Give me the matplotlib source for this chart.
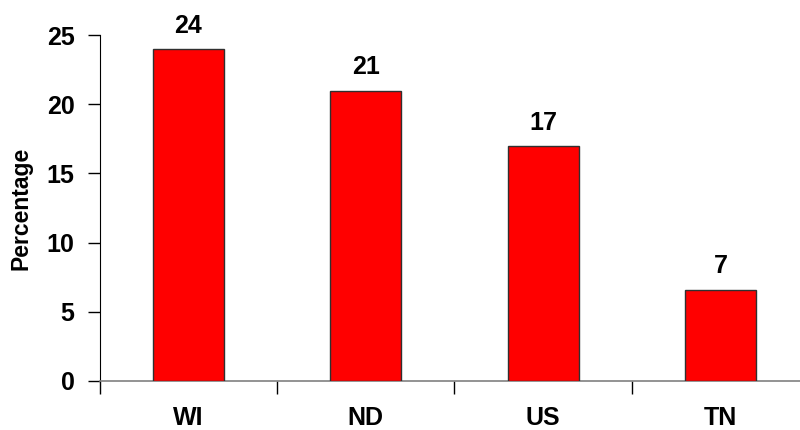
import matplotlib
matplotlib.use("Agg")
import matplotlib.pyplot as plt
from matplotlib.ticker import FixedLocator

categories = ["WI", "ND", "US", "TN"]
values = [24, 21, 17, 6.6]
value_labels = ["24", "21", "17", "7"]
yticks = [0, 5, 10, 15, 20, 25]

plt.rcParams['font.family'] = ['Liberation Sans', 'DejaVu Sans']
plt.rcParams['font.weight'] = 'bold'

fig = plt.figure(figsize=(8, 4.3), dpi=100)
ax = fig.add_axes([99.5/800, 49.3/430, 710/800, 345.4/430])

x = list(range(len(categories)))
bars = ax.bar(x, values, width=0.4, color='#ff0000', edgecolor='#303030', linewidth=1.0, zorder=3)

for xi, v, lab in zip(x, values, value_labels):
    ax.annotate(lab, (xi, v), xytext=(0, 8), textcoords='offset points',
                ha='center', va='bottom', fontsize=18, fontweight='bold')

ax.set_xlim(-0.5, len(categories) - 0.5)
ax.set_ylim(0, 25)
ax.set_yticks(yticks)
ax.set_yticklabels([str(t) for t in yticks], fontsize=18, fontweight='bold')

# category labels at centers (no tick marks), tick marks at boundaries
ax.set_xticks(x)
ax.set_xticklabels(categories, fontsize=18, fontweight='bold')
ax.tick_params(axis='x', which='major', length=0, pad=18.5)
ax.xaxis.set_minor_locator(FixedLocator([i - 0.5 for i in range(len(categories) + 1)]))
ax.tick_params(axis='x', which='minor', length=9, width=1, direction='out', color='black')
ax.tick_params(axis='y', length=9, width=1, direction='out', pad=9)

ax.spines['top'].set_visible(False)
ax.spines['right'].set_visible(False)
ax.spines['left'].set_color('black')
ax.spines['bottom'].set_color('#808080')
ax.spines['bottom'].set_linewidth(1.2)

ax.set_ylabel('Percentage', fontsize=16.5, fontweight='bold')
ax.yaxis.set_label_coords(-(99.5 - 32) / 710, 0.5)

fig.savefig('out.png', dpi=100)
